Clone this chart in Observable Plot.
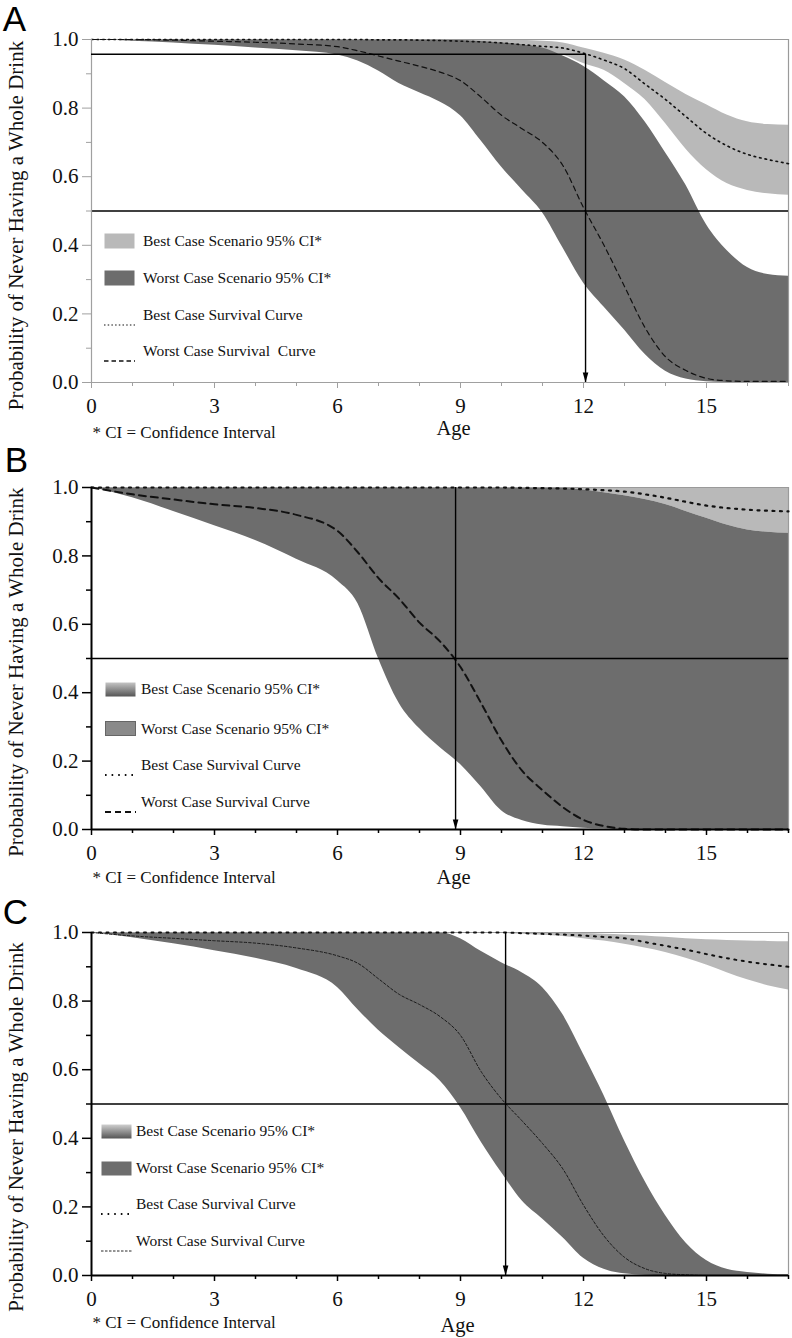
<!DOCTYPE html>
<html><head><meta charset="utf-8">
<script src="https://cdn.jsdelivr.net/npm/d3@7"></script>
<script src="https://cdn.jsdelivr.net/npm/@observablehq/plot@0.6"></script>
<style>
body{margin:0;background:#fff;width:792px;height:1338px;position:relative;overflow:hidden;font-family:'Liberation Serif','Times New Roman',serif;}
.panel{position:absolute;left:0;}
.panel svg text{font-family:'Liberation Serif','Times New Roman',serif;}
.panel svg text.letter{font-family:'Liberation Sans',Arial,sans-serif;}
.lg{position:absolute;white-space:pre;font-size:15.5px;color:#111;line-height:1;}
.sw{position:absolute;}
</style></head><body>
<script>
// ---------- DATA ----------
const ages = [0,1,2,3,4,5,6,6.5,7,7.5,8,8.5,9,9.5,10,10.5,11,11.5,12,12.5,13,13.5,14,14.5,15,15.5,16,16.5,17];
const xMajor = [0,3,6,9,12,15];
const xMinor = [1,2,4,5,7,8,10,11,13,14,16,17];
const yMajor = [0,0.2,0.4,0.6,0.8,1.0];
const yMinor = [0.1,0.3,0.5,0.7,0.9];

// Panel A
const aWorstHi  = [1,1,1,1,1,1,1,1,1,1,0.999,0.998,0.997,0.994,0.99,0.985,0.975,0.952,0.922,0.88,0.833,0.76,0.67,0.575,0.46,0.385,0.335,0.315,0.31];
const aWorstLo  = [1,0.995,0.99,0.983,0.975,0.967,0.955,0.937,0.908,0.872,0.845,0.818,0.778,0.705,0.628,0.562,0.495,0.392,0.29,0.22,0.153,0.082,0.033,0.01,0.002,0,0,0,0];
const aWorstSurv= [1,1,0.998,0.995,0.992,0.987,0.979,0.967,0.952,0.937,0.922,0.905,0.88,0.832,0.779,0.74,0.70,0.632,0.51,0.40,0.28,0.16,0.075,0.035,0.012,0.005,0.003,0.003,0.003];
const aBestHi   = [1,1,1,1,1,1,1,1,1,1,1,1,1,1,1,0.998,0.995,0.99,0.975,0.96,0.94,0.91,0.875,0.84,0.81,0.78,0.76,0.752,0.75];
const aBestLo   = [1,1,1,1,1,1,1,0.999,0.998,0.997,0.995,0.993,0.99,0.986,0.98,0.973,0.963,0.955,0.93,0.91,0.872,0.825,0.755,0.68,0.62,0.58,0.56,0.55,0.546];
const aBestSurv = [1,1,1,1,1,1,1,1,0.999,0.999,0.998,0.997,0.995,0.993,0.99,0.985,0.98,0.975,0.96,0.94,0.915,0.87,0.825,0.775,0.726,0.69,0.665,0.65,0.638];

// Panel B
const bWorstHi  = [1,1,1,1,1,1,1,1,1,1,1,1,1,1,1,1,1,0.998,0.993,0.985,0.976,0.965,0.95,0.93,0.91,0.89,0.876,0.869,0.866];
const bWorstLo  = [1,0.97,0.93,0.888,0.845,0.79,0.727,0.66,0.50,0.37,0.295,0.24,0.19,0.125,0.055,0.026,0.013,0.008,0.004,0.002,0,0,0,0,0,0,0,0,0];
const bWorstSurv= [1,0.98,0.965,0.951,0.94,0.92,0.873,0.81,0.735,0.675,0.605,0.55,0.475,0.37,0.26,0.172,0.115,0.065,0.028,0.01,0.002,0,0,0,0,0,0,0,0];
const bBestHi   = [1,1,1,1,1,1,1,1,1,1,1,1,1,1,1,1,1,1,1,1,1,1,1,1,1,1,1,1,1];
const bBestLo   = [1,1,1,1,1,1,1,1,1,1,1,1,1,1,1,1,1,0.998,0.993,0.985,0.976,0.965,0.95,0.93,0.91,0.89,0.876,0.869,0.866];
const bBestSurv = [1,1,1,1,1,1,1,1,1,1,1,1,1,1,1,0.999,0.998,0.997,0.995,0.992,0.988,0.98,0.97,0.958,0.947,0.94,0.935,0.932,0.93];

// Panel C
const cWorstHi  = [1,1,1,1,1,1,1,1,1,1,1,1,0.982,0.945,0.912,0.883,0.84,0.76,0.645,0.525,0.393,0.275,0.175,0.095,0.044,0.018,0.009,0.004,0.002];
const cWorstLo  = [1,0.985,0.967,0.947,0.925,0.895,0.84,0.775,0.715,0.665,0.617,0.568,0.49,0.39,0.30,0.218,0.165,0.11,0.05,0.018,0.005,0.001,0,0,0,0,0,0,0];
const cWorstSurv= [1,0.99,0.983,0.976,0.969,0.955,0.932,0.91,0.865,0.82,0.79,0.755,0.70,0.595,0.515,0.451,0.385,0.31,0.205,0.115,0.053,0.02,0.006,0.002,0,0,0,0,0];
const cBestHi   = [1,1,1,1,1,1,1,1,1,1,1,1,1,1,1,1,1,0.999,0.997,0.995,0.993,0.99,0.986,0.982,0.979,0.977,0.975,0.974,0.973];
const cBestLo   = [1,1,1,1,1,1,1,1,1,1,1,1,1,0.998,0.997,0.995,0.992,0.988,0.982,0.975,0.966,0.955,0.942,0.925,0.905,0.883,0.862,0.845,0.832];
const cBestSurv = [1,1,1,1,1,1,1,1,1,1,1,1,1,1,1,0.998,0.996,0.994,0.991,0.987,0.983,0.972,0.961,0.95,0.937,0.925,0.915,0.907,0.9];

// Median markers
const medianAges = [12.05, 8.88, 10.1];
const arrowTops  = [0.957, 1, 1];
const halfLevel = 0.5;

const panelLetters = ["A","B","C"];
const yTitle = "Probability of Never Having a Whole Drink";
const xTitle = "Age";
const ciNote = "* CI = Confidence Interval";
const legendLabelsA = ["Best Case Scenario 95% CI*","Worst Case Scenario 95% CI*","Best Case Survival Curve","Worst Case Survival  Curve"];
const legendLabelsBC = ["Best Case Scenario 95% CI*","Worst Case Scenario 95% CI*","Best Case Survival Curve","Worst Case Survival Curve"];

// ---------- DRAW ----------
const SERIF = "'Liberation Serif','Times New Roman',serif";
const SANS = "'Liberation Sans',Arial,sans-serif";
const arrowDown = {draw(ctx){ ctx.moveTo(-2.8,-10); ctx.lineTo(2.8,-10); ctx.lineTo(0,0); ctx.closePath(); }};

function makePanel(cfg){
  const rows = ages.map((a,i)=>({age:a, wHi:cfg.wHi[i], wLo:cfg.wLo[i], wS:cfg.wS[i], bHi:cfg.bHi[i], bLo:cfg.bLo[i], bS:cfg.bS[i]}));
  const ax = cfg.axisColor, aw = cfg.axisWidth;
  const marks = [
    Plot.areaY(rows,{x:"age",y1:"bLo",y2:"bHi",fill:"#b9b9b9",curve:"monotone-x"}),
    Plot.areaY(rows,{x:"age",y1:"wLo",y2:"wHi",fill:"#6d6d6d",curve:"monotone-x"}),
    Plot.ruleY([1],{stroke:"#9a9a9a",strokeWidth:1.2}),
    Plot.ruleX([17],{stroke:"#9a9a9a",strokeWidth:1.2}),
    Plot.line(rows,{x:"age",y:"bS",stroke:"#111",strokeWidth:cfg.bsW,strokeDasharray:cfg.bsDash,curve:"monotone-x"}),
    Plot.line(rows,{x:"age",y:"wS",stroke:"#111",strokeWidth:cfg.wsW,strokeDasharray:cfg.wsDash,curve:"monotone-x"}),
    Plot.ruleY([halfLevel],{stroke:"#000",strokeWidth:1.4}),
    Plot.ruleX([cfg.median],{y1:cfg.top,y2:0,stroke:"#000",strokeWidth:1.4}),
    Plot.dot([{age:cfg.median,y:0}],{x:"age",y:"y",symbol:arrowDown,fill:"#000",stroke:null,r:3}),
    Plot.ruleY([0],{stroke:ax,strokeWidth:aw}),
    Plot.ruleX([0],{stroke:ax,strokeWidth:aw}),
    Plot.axisY(yMajor,{tickSize:9,tickPadding:4,tickFormat:d3.format(".1f"),stroke:ax,strokeWidth:cfg.tickW,fill:"#111",fontSize:21,fontFamily:SERIF,fontVariant:"normal",label:null}),
    Plot.axisY(yMinor,{tickSize:5,tickFormat:()=>"",stroke:ax,strokeWidth:cfg.tickW,label:null}),
    Plot.axisX(xMajor,{tickSize:6,tickPadding:10,stroke:ax,strokeWidth:cfg.tickW,fill:"#111",fontSize:21,fontFamily:SERIF,fontVariant:"normal",label:null}),
    Plot.axisX(xMinor,{tickSize:4,tickFormat:()=>"",stroke:ax,strokeWidth:cfg.tickW,label:null}),
    Plot.text([cfg.letter],{frameAnchor:"top-left",dx:cfg.letterDx,dy:cfg.letterDy,fontFamily:SANS,fontSize:35,textAnchor:"middle",lineAnchor:"middle",fill:"#000",className:"letter"}),
    Plot.text([yTitle],{frameAnchor:"left",rotate:-90,dx:-75,dy:cfg.titleDy,fontSize:21,fontFamily:SERIF,textAnchor:"middle",lineAnchor:"middle",fill:"#111"}),
    Plot.text([xTitle],{frameAnchor:"bottom-left",dx:cfg.ageDx,dy:cfg.ageDy,fontSize:20.5,fontFamily:SERIF,textAnchor:"middle",lineAnchor:"middle",fill:"#111"}),
    Plot.text([ciNote],{frameAnchor:"bottom-left",dx:1,dy:cfg.ciDy,fontSize:17,fontFamily:SERIF,textAnchor:"start",lineAnchor:"middle",fill:"#111"})
  ];
  if (cfg.hLevel != null) marks.push(Plot.ruleY([cfg.hLevel],{x1:0,x2:cfg.median,stroke:"#000",strokeWidth:1.4}));
  const svg = Plot.plot({
    width:792, height:cfg.height,
    marginLeft:91, marginRight:4, marginTop:cfg.mt, marginBottom:cfg.mb,
    x:{domain:[0,17],label:null},
    y:{domain:[0,1],label:null},
    style:{fontFamily:SERIF,background:"transparent",overflow:"visible"},
    marks
  });
  const div = document.createElement("div");
  div.className="panel"; div.style.top=cfg.top0+"px";
  div.appendChild(svg);
  document.body.appendChild(div);
  // ensure the panel letter is sans
  svg.querySelectorAll("text").forEach(t=>{ if (panelLetters.includes(t.textContent)) t.style.fontFamily = SANS; });
}

function swatchSVG(kind, w, h, opt){
  const ns="http://www.w3.org/2000/svg";
  const s=document.createElementNS(ns,"svg");
  s.setAttribute("width",w); s.setAttribute("height",h);
  if (kind==="fill"){
    const r=document.createElementNS(ns,"rect");
    r.setAttribute("x",0.5);r.setAttribute("y",0.5);r.setAttribute("width",w-1);r.setAttribute("height",h-1);
    if (opt.gradient){
      const defs=document.createElementNS(ns,"defs");
      const g=document.createElementNS(ns,"linearGradient");
      const id="g"+Math.random().toString(36).slice(2);
      g.setAttribute("id",id);g.setAttribute("x1",0);g.setAttribute("x2",0);g.setAttribute("y1",0);g.setAttribute("y2",1);
      [["0",opt.gradient[0]],["1",opt.gradient[1]]].forEach(([o,c])=>{const st=document.createElementNS(ns,"stop");st.setAttribute("offset",o);st.setAttribute("stop-color",c);g.appendChild(st);});
      defs.appendChild(g);s.appendChild(defs);
      r.setAttribute("fill",`url(#${id})`);
    } else r.setAttribute("fill",opt.fill);
    if (opt.stroke){r.setAttribute("stroke",opt.stroke);r.setAttribute("stroke-width",1);}
    s.appendChild(r);
  } else {
    const l=document.createElementNS(ns,"line");
    l.setAttribute("x1",0);l.setAttribute("x2",w);l.setAttribute("y1",h/2);l.setAttribute("y2",h/2);
    l.setAttribute("stroke","#111");l.setAttribute("stroke-width",opt.w);l.setAttribute("stroke-dasharray",opt.dash);
    s.appendChild(l);
  }
  return s;
}

function makeLegend(L){
  L.items.forEach((it,i)=>{
    const y=L.rows[i];
    const sw=document.createElement("div"); sw.className="sw";
    const h = it.kind==="fill" ? L.swH : 4;
    sw.style.left=L.swX+"px"; sw.style.top=(y-h/2)+"px";
    sw.appendChild(swatchSVG(it.kind, L.swW, h, it));
    document.body.appendChild(sw);
    const t=document.createElement("div"); t.className="lg";
    t.textContent=L.labels[i];
    t.style.left=L.textX+"px"; t.style.top=(y-8)+"px";
    document.body.appendChild(t);
  });
}

makePanel({letter:panelLetters[0],top0:0,height:446,mt:39,mb:64,
  wHi:aWorstHi,wLo:aWorstLo,wS:aWorstSurv,bHi:aBestHi,bLo:aBestLo,bS:aBestSurv,
  median:medianAges[0],top:arrowTops[0],hLevel:arrowTops[0],
  axisColor:"#a0a0a0",axisWidth:1.2,tickW:1,
  bsW:1.6,bsDash:"1.6,4",wsW:1.2,wsDash:"5,4",
  letterDx:-77,letterDy:-20,titleDy:14.5,ageDx:362,ageDy:46,ciDy:50});
makePanel({letter:panelLetters[1],top0:446,height:444,mt:41,mb:61,
  wHi:bWorstHi,wLo:bWorstLo,wS:bWorstSurv,bHi:bBestHi,bLo:bBestLo,bS:bBestSurv,
  median:medianAges[1],top:arrowTops[1],hLevel:null,
  axisColor:"#000",axisWidth:2,tickW:1.5,
  bsW:2.2,bsDash:"2,5.5",wsW:2,wsDash:"7,5",
  letterDx:-75,letterDy:-27,titleDy:13.7,ageDx:362,ageDy:48,ciDy:48});
makePanel({letter:panelLetters[2],top0:890,height:448,mt:42,mb:63,
  wHi:cWorstHi,wLo:cWorstLo,wS:cWorstSurv,bHi:cBestHi,bLo:cBestLo,bS:cBestSurv,
  median:medianAges[2],top:arrowTops[2],hLevel:null,
  axisColor:"#000",axisWidth:2,tickW:1.5,
  bsW:2,bsDash:"2,5.5",wsW:0.9,wsDash:"2.5,2",
  letterDx:-76,letterDy:-20,titleDy:23,ageDx:366,ageDy:50,ciDy:47});

makeLegend({swX:104,swW:31,swH:16,textX:143,rows:[241,277.5,314.5,351],labels:legendLabelsA,
  items:[{kind:"fill",fill:"#b9b9b9"},{kind:"fill",fill:"#6d6d6d"},{kind:"line",w:1.2,dash:"1.5,2.2"},{kind:"line",w:1.3,dash:"4.5,3"}]});
makeLegend({swX:105,swW:31,swH:15,textX:141,rows:[689,728.5,765,801.7],labels:legendLabelsBC,
  items:[{kind:"fill",gradient:["#c4c4c4","#555"]},{kind:"fill",fill:"#8a8a8a",stroke:"#666"},{kind:"line",w:1.8,dash:"1.6,5"},{kind:"line",w:2,dash:"6,4"}]});
makeLegend({swX:101,swW:31,swH:15,textX:136,rows:[1131,1168,1204,1240.7],labels:legendLabelsBC,
  items:[{kind:"fill",gradient:["#cfcfcf","#555"]},{kind:"fill",fill:"#6d6d6d"},{kind:"line",w:1.8,dash:"1.6,5"},{kind:"line",w:0.9,dash:"2.5,1.5"}]});
</script>
</body></html>
